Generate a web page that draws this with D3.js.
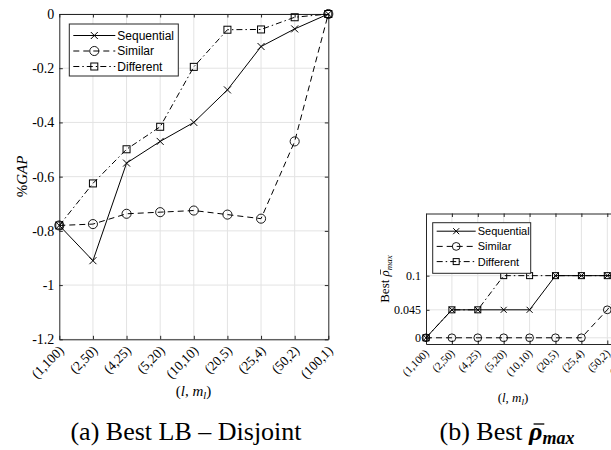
<!DOCTYPE html>
<html>
<head>
<meta charset="utf-8">
<script src="https://cdn.jsdelivr.net/npm/d3@7"></script>
<style>
  body { margin: 0; background: #fff; overflow: hidden; }
  .serif { font-family: 'Liberation Serif', 'Times New Roman', serif; }
  .sans { font-family: 'Liberation Sans', Arial, sans-serif; }
</style>
</head>
<body>
<div id="chart"></div>
<script>
const categories = ['(1,100)', '(2,50)', '(4,25)', '(5,20)', '(10,10)', '(20,5)', '(25,4)', '(50,2)', '(100,1)'];
const seriesNames = ['Sequential', 'Similar', 'Different'];

// (a) best LB - disjoint, %GAP
const gapSequential = [-0.78, -0.91, -0.55, -0.47, -0.40, -0.28, -0.12, -0.055, 0];
const gapSimilar = [-0.78, -0.775, -0.737, -0.731, -0.725, -0.74, -0.755, -0.47, 0];
const gapDifferent = [-0.78, -0.625, -0.499, -0.416, -0.195, -0.058, -0.057, -0.012, 0];
const gapTicks = [-1.2, -1, -0.8, -0.6, -0.4, -0.2, 0];

// (b) best rho max (last point falls outside the picture)
const rhoSequential = [0, 0.045, 0.045, 0.045, 0.045, 0.1, 0.1, 0.1, 0.1];
const rhoSimilar = [0, 0, 0, 0, 0, 0, 0, 0.045, 0.1];
const rhoDifferent = [0, 0.045, 0.045, 0.1, 0.1, 0.1, 0.1, 0.1, 0.1];
const rhoTicks = [0, 0.045, 0.1];

const styles = [
    {marker: 'x', dash: null},
    {marker: 'o', dash: '6,4'},
    {marker: 's', dash: '6,3,1.5,3'}
];

const svg = d3.select('#chart').append('svg').attr('width', 611).attr('height', 450);

function marker(g, type, x, y, s) {
    if (type === 'x') {
        g.append('path').attr('d', `M${x - s},${y - s}L${x + s},${y + s}M${x - s},${y + s}L${x + s},${y - s}`)
            .attr('stroke', '#000').attr('stroke-width', 1);
    } else if (type === 'o') {
        g.append('circle').attr('cx', x).attr('cy', y).attr('r', s * 1.3)
            .attr('fill', 'none').attr('stroke', '#000').attr('stroke-width', 0.9);
    } else {
        g.append('rect').attr('x', x - s).attr('y', y - s).attr('width', s * 2).attr('height', s * 2)
            .attr('fill', 'none').attr('stroke', '#000').attr('stroke-width', 1);
    }
}

function panel(p) {
    const g = svg.append('g');
    const x = d3.scalePoint().domain(categories).range([p.left, p.right]);
    const y = d3.scaleLinear().domain(p.domain).range([p.bottom, p.top]);

    // grid
    g.append('g').selectAll('line').data(categories.slice(1, -1)).enter().append('line')
        .attr('x1', d => x(d)).attr('x2', d => x(d)).attr('y1', p.top).attr('y2', p.bottom)
        .attr('stroke', '#e3e3e3').attr('stroke-width', 1);
    g.append('g').selectAll('line').data(p.ticks).enter().append('line')
        .attr('x1', p.left).attr('x2', p.right).attr('y1', d => y(d)).attr('y2', d => y(d))
        .attr('stroke', '#e3e3e3').attr('stroke-width', 1);

    // axes with inward ticks
    const yAxis = g.append('g').attr('class', 'serif').attr('transform', `translate(${p.left},0)`)
        .call(d3.axisLeft(y).tickValues(p.ticks).tickSize(-3.5).tickSizeOuter(0).tickPadding(5).tickFormat(d => String(d)));
    yAxis.selectAll('text').style('font-size', p.tickFont + 'px').attr('fill', '#000');
    g.append('g').attr('transform', `translate(${p.right},0)`)
        .call(d3.axisRight(y).tickValues(p.ticks).tickSize(-3.5).tickSizeOuter(0).tickFormat(''));
    const xAxis = g.append('g').attr('class', 'serif').attr('transform', `translate(0,${p.bottom})`)
        .call(d3.axisBottom(x).tickSize(-3.5).tickSizeOuter(0));
    xAxis.selectAll('text').attr('x', 0).attr('y', 0).attr('dy', null)
        .attr('transform', `translate(${p.labDx},${p.labDy}) rotate(-45)`)
        .style('text-anchor', 'end').style('font-size', p.catFont + 'px').attr('fill', '#000');
    g.append('g').attr('transform', `translate(0,${p.top})`)
        .call(d3.axisTop(x).tickSize(-3.5).tickSizeOuter(0).tickFormat(''));
    g.selectAll('.domain, .tick line').attr('stroke', '#262626');

    // series
    p.series.forEach((vals, i) => {
        const pts = vals.map((v, j) => [x(categories[j]), y(v)]);
        g.append('path').attr('d', d3.line()(pts)).attr('fill', 'none').attr('stroke', '#000')
            .attr('stroke-width', 1).attr('stroke-dasharray', styles[i].dash);
        const mg = g.append('g');
        pts.forEach(q => marker(mg, styles[i].marker, q[0], q[1], p.ms));
    });

    // legend
    const L = p.legend;
    const lg = g.append('g');
    lg.append('rect').attr('x', L.x).attr('y', L.y).attr('width', L.w).attr('height', L.h)
        .attr('fill', '#fff').attr('stroke', '#262626').attr('stroke-width', 1);
    seriesNames.forEach((name, i) => {
        const yy = L.y + L.first + i * L.row;
        lg.append('line').attr('x1', L.x + 4).attr('x2', L.x + L.line).attr('y1', yy).attr('y2', yy)
            .attr('stroke', '#000').attr('stroke-width', 1).attr('stroke-dasharray', styles[i].dash);
        marker(lg, styles[i].marker, L.x + 4 + (L.line - 4) / 2, yy, p.ms);
        lg.append('text').attr('class', 'sans').attr('x', L.x + L.line + 2).attr('y', yy + L.font * 0.36)
            .style('font-size', L.font + 'px').text(name);
    });
}

panel({
    left: 59.3, right: 328.3, top: 14, bottom: 339.3, domain: [-1.2, 0], ticks: gapTicks,
    series: [gapSequential, gapSimilar, gapDifferent], tickFont: 14, catFont: 13.5, labDx: 5, labDy: 12, ms: 3.5,
    legend: {x: 69.3, y: 24, w: 109, h: 52, first: 11.5, row: 15.5, line: 46, font: 12}
});

panel({
    left: 426, right: 633.2, top: 213.5, bottom: 344, domain: [-0.01, 0.2], ticks: rhoTicks,
    series: [rhoSequential, rhoSimilar, rhoDifferent], tickFont: 12, catFont: 11, labDx: 3, labDy: 10, ms: 3,
    legend: {x: 432.7, y: 222.7, w: 98, h: 50.6, first: 8.5, row: 15.2, line: 43, font: 11}
});

// puts a bar over one character of a text element
function overbar(g, textSel, idx, rise, slant) {
    const node = textSel.node();
    const a = node.getStartPositionOfChar(idx), b = node.getEndPositionOfChar(idx);
    const w = b.x - a.x;
    g.append('line').attr('x1', a.x + w * 0.15 + slant).attr('x2', b.x - w * 0.05 + slant)
        .attr('y1', a.y - rise).attr('y2', a.y - rise).attr('stroke', '#000').attr('stroke-width', rise / 12);
}

// axis titles
svg.append('text').attr('class', 'serif').attr('transform', 'translate(27,176.5) rotate(-90)')
    .attr('text-anchor', 'middle').style('font-size', '15px')
    .call(t => { t.append('tspan').text('%'); t.append('tspan').style('font-style', 'italic').text('GAP'); });

const rhoTitle = svg.append('g').attr('transform', 'translate(389,279) rotate(-90)');
const rhoText = rhoTitle.append('text').attr('class', 'serif').attr('text-anchor', 'middle').style('font-size', '13px')
    .call(t => {
        t.append('tspan').text('Best ');
        t.append('tspan').style('font-style', 'italic').text('\u03C1');
        t.append('tspan').style('font-style', 'italic').style('font-size', '9px').attr('dy', 3).text('max');
    });
overbar(rhoTitle, rhoText, 5, 8.5, 1);

function lmLabel(cx, cy, size) {
    svg.append('text').attr('class', 'serif').attr('x', cx).attr('y', cy).attr('text-anchor', 'middle')
        .style('font-size', size + 'px')
        .call(t => {
            t.append('tspan').text('(');
            t.append('tspan').style('font-style', 'italic').text('l');
            t.append('tspan').text(', ');
            t.append('tspan').style('font-style', 'italic').text('m');
            t.append('tspan').style('font-style', 'italic').style('font-size', (size * 0.7) + 'px').attr('dy', 3).text('l');
            t.append('tspan').attr('dy', -3).text(')');
        });
}
lmLabel(193.5, 396, 15);
lmLabel(513, 402, 13);

// captions
svg.append('text').attr('class', 'serif').attr('x', 186).attr('y', 440).attr('text-anchor', 'middle')
    .style('font-size', '26px').text('(a) Best LB \u2013 Disjoint');
const capB = svg.append('text').attr('class', 'serif').attr('x', 507).attr('y', 440).attr('text-anchor', 'middle')
    .style('font-size', '26px')
    .call(t => {
        t.append('tspan').text('(b) Best ');
        t.append('tspan').style('font-style', 'italic').style('font-weight', 'bold').text('\u03C1');
        t.append('tspan').style('font-style', 'italic').style('font-weight', 'bold').style('font-size', '18px').attr('dy', 4).text('max');
    });
overbar(svg, capB, 9, 16, 2.5);
</script>
</body>
</html>
